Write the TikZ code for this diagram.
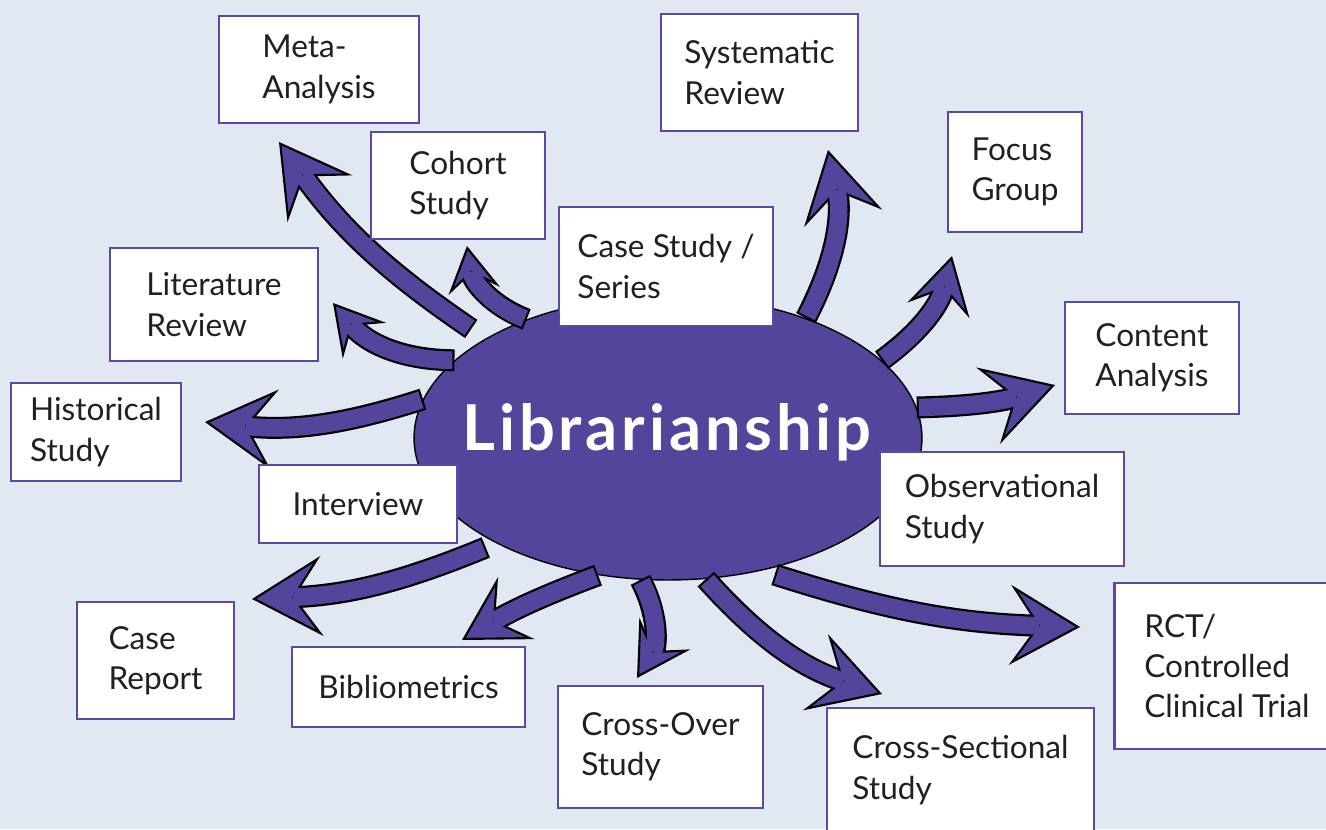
\documentclass[tikz,border=0pt]{standalone}
\usepackage{fontspec}
\setmainfont{Lato}
\usetikzlibrary{shapes.geometric,arrows.meta}

\definecolor{bgblue}{HTML}{E0E8F2}
\definecolor{hubfill}{HTML}{52459B}
\definecolor{boxline}{HTML}{5A4AA6}
\definecolor{inkgray}{HTML}{231F20}

\tikzset{
  method/.style={draw=boxline, fill=white, line width=1.4pt, align=left,
    inner sep=0pt, text=inkgray, font=\fontsize{18}{23}\selectfont},
  hub/.style={ellipse, draw=black, line width=0.8pt, fill=hubfill,
    minimum width=10.16cm, minimum height=5.68cm, inner sep=0pt},
  hubtext/.style={text=white,
    font=\fontsize{36}{40}\selectfont\bfseries\addfontfeatures{LetterSpace=6}},
  arrowrim/.style={draw=black, line width=12.5pt},
  arrowcore/.style={draw=hubfill, line width=10pt}
}

% fat arrow: [head scale]{bend}{from}{to}
\newcommand\methodarrow[4][1]{%
  \draw[arrowrim, -{Stealth[length=1.4cm, width=1.6cm, inset=0.55cm, scale=#1,
      line width=1.2pt, fill=hubfill]}] (#3) to[#2] (#4);
  \draw[arrowcore, shorten <=1.2pt, shorten >=#1*0.85cm-1pt] (#3) to[#2] (#4);
}

\begin{document}
\begin{tikzpicture}[x=0.02cm, y=-0.02cm]
  \useasboundingbox (0,0) rectangle (1326,829);
  \clip (0,0) rectangle (1326,829);
  \fill[bgblue] (0,0) rectangle (1326,829);

  \node[hub] (lib) at (668,438) {};
  \node[hubtext] (libtitle) at (667,432) {Librarianship};

  % arrow ends
  \coordinate (metaFrom) at ([shift={(151:0.36cm)}]lib.151);
  \coordinate (reportFrom) at ([shift={(211:0.2cm)}]lib.211);
  \coordinate (rctFrom) at ([shift={(308:0.15cm)}]lib.308);
  \coordinate (metaTip) at (279,142);
  \coordinate (cohortTip) at (467,246);
  \coordinate (literatureTip) at (333,303);
  \coordinate (historicalTip) at (205,422);
  \coordinate (reportTip) at (252,599);
  \coordinate (biblioTip) at (462,640);
  \coordinate (crossoverTip) at (637,678);
  \coordinate (crosssectTip) at (882,694);
  \coordinate (rctTip) at (1080,627);
  \coordinate (contentTip) at (1055,385);
  \coordinate (focusTip) at (952,256);
  \coordinate (systematicTip) at (828,150);

  \methodarrow{bend left=10}{metaFrom}{metaTip}
  \methodarrow[0.65]{bend left=30}{lib.140}{cohortTip}
  \methodarrow[0.7]{bend left=25}{lib.160}{literatureTip}
  \methodarrow{bend left=12}{lib.171}{historicalTip}
  \methodarrow{bend left=10}{reportFrom}{reportTip}
  \methodarrow[0.9]{bend right=5}{lib.243}{biblioTip}
  \methodarrow[0.75]{bend left=30}{lib.259}{crossoverTip}
  \methodarrow{bend right=15}{lib.285}{crosssectTip}
  \methodarrow{bend right=8}{rctFrom}{rctTip}
  \methodarrow{bend right=8}{lib.7}{contentTip}
  \methodarrow[0.8]{bend right=20}{lib.20}{focusTip}
  \methodarrow{bend right=20}{lib.41}{systematicTip}

  % boxes
  \node[method, minimum width=4cm, minimum height=2.14cm] (meta) at (319,69.5) {Meta-\\Analysis};
  \node[method, minimum width=3.48cm, minimum height=2.14cm] (cohort) at (458,185.5) {Cohort\\Study};
  \node[method, minimum width=3.94cm, minimum height=2.34cm] (systematic) at (759.5,72.5) {Systematic\\Review};
  \node[method, minimum width=2.68cm, minimum height=2.4cm] (focus) at (1015,172) {Focus\\Group};
  \node[method, minimum width=4.28cm, minimum height=2.38cm] (casestudy) at (666,266.5) {Case Study /\\Series};
  \node[method, minimum width=3.48cm, minimum height=2.24cm] (content) at (1152,358) {Content\\Analysis};
  \node[method, minimum width=4.16cm, minimum height=2.26cm] (literature) at (214,304.5) {Literature\\Review};
  \node[method, minimum width=3.4cm, minimum height=1.96cm] (historical) at (96,432) {Historical\\Study};
  \node[method, minimum width=3.96cm, minimum height=1.56cm] (interview) at (358,504) {Interview};
  \node[method, minimum width=4.88cm, minimum height=2.28cm] (observational) at (1002,509) {Observational\\Study};
  \node[method, minimum width=3.14cm, minimum height=2.34cm] (casereport) at (155.5,660.5) {Case\\Report};
  \node[method, minimum width=4.66cm, minimum height=1.6cm] (biblio) at (408.5,687) {Bibliometrics};
  \node[method, minimum width=4.1cm, minimum height=2.44cm] (crossover) at (660.5,747) {Cross-Over\\Study};
  \node[method, minimum width=5.34cm, minimum height=2.48cm] (crosssect) at (960.5,770) {Cross-Sectional\\Study};
  \node[method, minimum width=4.5cm, minimum height=3.32cm] (rct) at (1227,666) {RCT/\\Controlled\\Clinical Trial};
\end{tikzpicture}
\end{document}
